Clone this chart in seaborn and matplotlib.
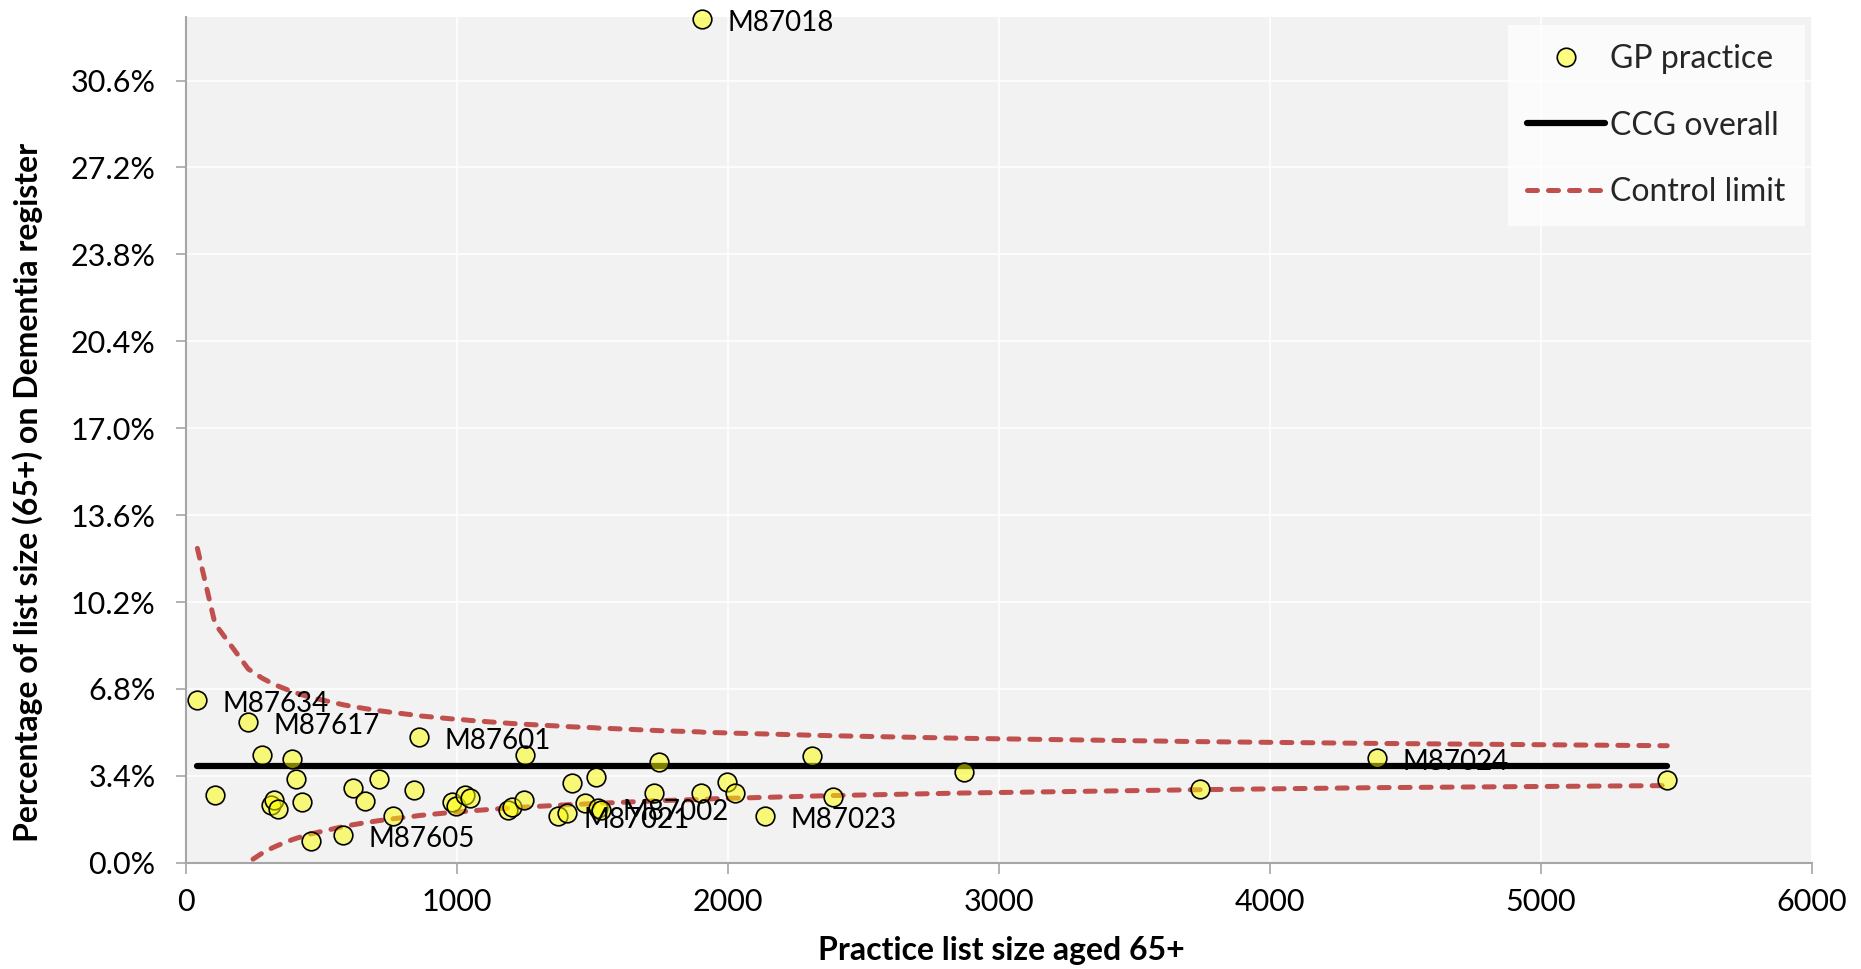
import matplotlib
matplotlib.use("Agg")
import matplotlib.pyplot as plt
import seaborn as sns
import pandas as pd
from matplotlib.ticker import FuncFormatter
from matplotlib.lines import Line2D

# ---------------- data ----------------
practice_size = [42, 107, 230, 280, 312, 326, 341, 391, 405, 429, 461, 581, 617, 662,
                 713, 763, 842, 861, 980, 996, 1030, 1048, 1189, 1202, 1248, 1250,
                 1374, 1405, 1423, 1472, 1512, 1519, 1530, 1726, 1745, 1900, 1905,
                 1995, 2028, 2138, 2311, 2389, 2871, 3742, 4396, 5467]
practice_pct = [6.37, 2.65, 5.51, 4.21, 2.25, 2.46, 2.09, 4.07, 3.27, 2.37, 0.85, 1.08,
                2.93, 2.43, 3.27, 1.83, 2.86, 4.91, 2.39, 2.22, 2.65, 2.52, 2.07, 2.19,
                2.46, 4.22, 1.83, 1.96, 3.13, 2.33, 3.37, 2.13, 2.07, 2.74, 3.94, 2.74,
                33.0, 3.15, 2.72, 1.83, 4.17, 2.59, 3.55, 2.88, 4.11, 3.22]
practice_code = ["M87634", "", "M87617", "", "", "", "", "", "", "", "", "M87605",
                 "", "", "", "", "", "M87601", "", "", "", "", "", "", "", "",
                 "M87021", "", "", "", "", "M87002", "", "", "", "", "M87018",
                 "", "", "M87023", "", "", "", "", "M87024", ""]
upper_limit = [12.30, 9.35, 7.58, 7.23, 7.05, 6.98, 6.91, 6.70, 6.65, 6.57, 6.47, 6.18,
               6.11, 6.03, 5.95, 5.88, 5.78, 5.75, 5.63, 5.62, 5.59, 5.57, 5.46, 5.45,
               5.42, 5.42, 5.35, 5.33, 5.32, 5.30, 5.28, 5.27, 5.27, 5.18, 5.17, 5.12,
               5.11, 5.08, 5.07, 5.04, 4.99, 4.97, 4.87, 4.74, 4.67, 4.58]
lower_limit = [-4.70, -1.75, 0.02, 0.37, 0.55, 0.62, 0.69, 0.90, 0.95, 1.03, 1.13, 1.42,
               1.49, 1.57, 1.65, 1.72, 1.82, 1.85, 1.97, 1.98, 2.01, 2.03, 2.14, 2.15,
               2.18, 2.18, 2.25, 2.27, 2.28, 2.30, 2.33, 2.33, 2.33, 2.42, 2.43, 2.48,
               2.49, 2.52, 2.53, 2.56, 2.61, 2.63, 2.73, 2.86, 2.94, 3.02]
ccg_overall = 3.80

y_ticks = [0.0, 3.4, 6.8, 10.2, 13.6, 17.0, 20.4, 23.8, 27.2, 30.6]
x_ticks = [0, 1000, 2000, 3000, 4000, 5000, 6000]

x_title = "Practice list size aged 65+"
y_title = "Percentage of list size (65+) on Dementia register"

# ---------------- style ----------------
sns.set_theme(style="darkgrid")
plt.rcParams["font.family"] = ["Lato", "DejaVu Sans"]

BG = "#F2F2F2"
RED = "#C0504D"
AXIS = "#A6A6A6"

df = pd.DataFrame({"size": practice_size, "pct": practice_pct, "code": practice_code,
                   "upper": upper_limit, "lower": lower_limit})
ccg_df = pd.DataFrame({"size": [min(practice_size), max(practice_size)],
                       "pct": [ccg_overall, ccg_overall]})

fig = plt.figure(figsize=(18.61, 9.69), dpi=100)
fig.patch.set_facecolor("white")
ax = fig.add_axes([0.09995, 0.1096, 0.8735, 0.8732])
ax.set_facecolor(BG)

# CCG overall line
sns.lineplot(data=ccg_df, x="size", y="pct", ax=ax, color="black", linewidth=4.5,
             estimator=None, sort=False, solid_capstyle="round", zorder=2)
# control limits
sns.lineplot(data=df, x="size", y="upper", ax=ax, color=RED, linewidth=3.6,
             estimator=None, zorder=2)
sns.lineplot(data=df, x="size", y="lower", ax=ax, color=RED, linewidth=3.6,
             estimator=None, zorder=2)
for ln in ax.lines[1:3]:
    ln.set_dashes([2, 2.2])
    ln.set_dash_capstyle("round")

# practices
sns.scatterplot(data=df, x="size", y="pct", ax=ax, s=180, zorder=3, clip_on=False)
coll = ax.collections[-1]
coll.set_facecolor((1, 1, 0, 0.5))
coll.set_edgecolor("black")
coll.set_linewidth(1.2)

for sx, sy, code in zip(practice_size, practice_pct, practice_code):
    if code:
        ax.annotate(code, (sx, sy), xytext=(18, -8.5), textcoords="offset points",
                    fontsize=20, ha="left", va="baseline", color="black", zorder=4)

# axes
ax.set_xlim(0, 6000)
ax.set_ylim(0, 33.1)
ax.set_xticks(x_ticks)
ax.set_yticks(y_ticks)
ax.yaxis.set_major_formatter(FuncFormatter(lambda v, p: f"{v:.1f}%"))
ax.grid(True, color="white", linewidth=1.2)
ax.set_axisbelow(True)
for side in ("top", "right"):
    ax.spines[side].set_visible(False)
for side in ("left", "bottom"):
    ax.spines[side].set_visible(True)
    ax.spines[side].set_color(AXIS)
    ax.spines[side].set_linewidth(1.5)
ax.tick_params(axis="x", which="both", bottom=True, length=8, width=1.2, color=AXIS,
               labelsize=22, pad=10, labelcolor="black")
ax.tick_params(axis="y", which="both", left=True, length=7, width=1.2, color=AXIS,
               labelsize=22, pad=15, labelcolor="black")

ax.set_xlabel(x_title, fontsize=23, fontweight="bold", color="black")
ax.set_ylabel(y_title, fontsize=23, fontweight="bold", color="black")
ax.xaxis.set_label_coords(0.5017, -0.086)
ax.yaxis.set_label_coords(-0.088, 0.438)

handles = [
    Line2D([], [], linestyle="none", marker="o", markersize=13.3,
           markerfacecolor=(1, 1, 0, 0.5), markeredgecolor="black", markeredgewidth=1.2),
    Line2D([], [], color="black", linewidth=4.5, solid_capstyle="round"),
    Line2D([], [], color=RED, linewidth=3.6, dashes=[2, 2.2], dash_capstyle="round"),
]
leg = ax.legend(handles, ["GP practice", "CCG overall", "Control limit"],
                loc="upper right", bbox_to_anchor=(0.9957, 0.9902), borderaxespad=0,
                fontsize=23, frameon=True, fancybox=False, framealpha=0.75,
                facecolor="white", edgecolor="none", handlelength=2.45,
                handletextpad=0.15, labelspacing=1.14, borderpad=0.6)

fig.savefig("out.png", dpi=100)
